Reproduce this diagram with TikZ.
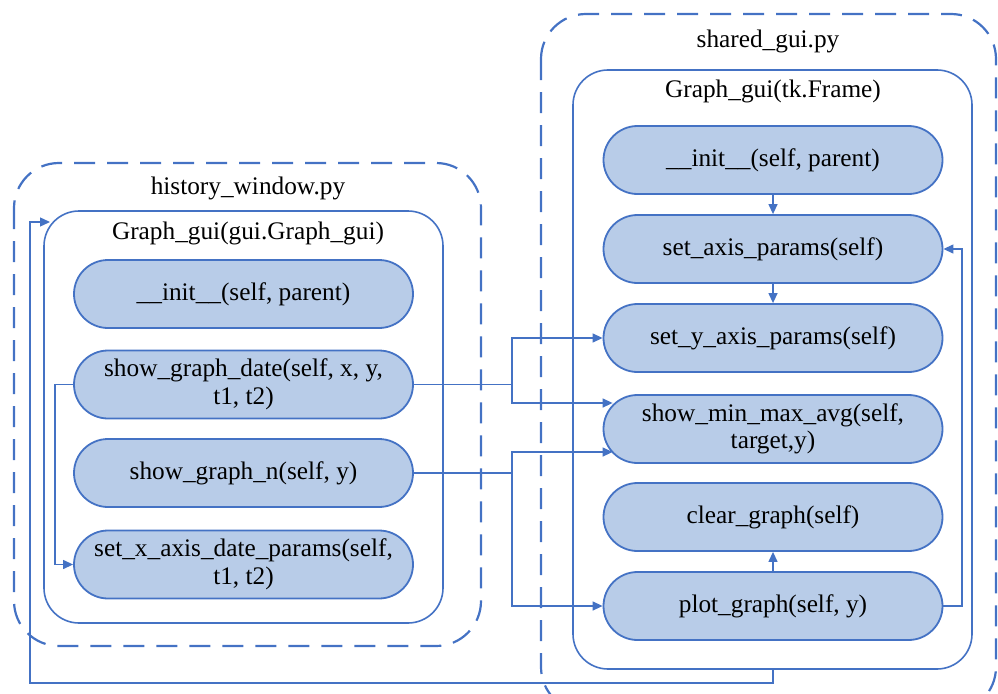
\documentclass[tikz,border=0pt]{standalone}
\usepackage{fontspec}
\setmainfont{Liberation Serif}
\usetikzlibrary{arrows.meta,calc}
\definecolor{lineblue}{HTML}{4472C4}
\definecolor{fillblue}{HTML}{B8CCE8}
\tikzset{
  module/.style={draw=lineblue, line width=2.2pt, dash pattern=on 21pt off 12pt, rounded corners=45pt},
  klass/.style={draw=lineblue, line width=1.6pt, rounded corners=35pt},
  method/.style={draw=lineblue, fill=fillblue, line width=1.8pt, rounded corners=34pt,
    minimum width=339pt, minimum height=68pt, inner sep=0pt, align=center,
    font=\rmfamily\fontsize{25.3}{27.5}\selectfont},
  title/.style={font=\rmfamily\fontsize{25.3}{28}\selectfont, inner sep=0pt},
  link/.style={draw=lineblue, line width=1.3pt},
  arr/.style={link, -{Triangle[length=10pt,width=9pt]}},
}
\begin{document}
\begin{tikzpicture}[x=1pt, y=-1pt]
\useasboundingbox (0,0) rectangle (998,693);
\clip (0,0) rectangle (998,693);

% module frames
\draw[module] (14,163) rectangle (481,646);
\node[title] (histtitle) at (248,188) {history\_window.py};
\draw[module] (541,14) rectangle (996,712);
\node[title] (sharedtitle) at (768,41) {shared\_gui.py};

% class frames
\draw[klass] (44,211) rectangle (443,623);
\node[title] (lclass) at (248,233) {Graph\_gui(gui.Graph\_gui)};
\draw[klass] (573,70) rectangle (972,669);
\node[title] (rclass) at (773,91) {Graph\_gui(tk.Frame)};
\coordinate (rbottom) at (773,669);
\coordinate (lentry) at (50,222);

% history_window methods
\node[method] (l1) at (243.5,294) {\_\_init\_\_(self, parent)};
\node[method] (l2) at (243.5,384.5) {show\_graph\_date(self, x, y,\\t1, t2)};
\node[method] (l3) at (243.5,473) {show\_graph\_n(self, y)};
\node[method] (l4) at (243.5,564.5) {set\_x\_axis\_date\_params(self,\\t1, t2)};

% shared_gui methods
\node[method] (r1) at (773,160) {\_\_init\_\_(self, parent)};
\node[method] (r2) at (773,249) {set\_axis\_params(self)};
\node[method] (r3) at (773,338) {set\_y\_axis\_params(self)};
\node[method] (r4) at (773,429) {show\_min\_max\_avg(self,\\target,y)};
\node[method] (r5) at (773,517) {clear\_graph(self)};
\node[method] (r6) at (773,606) {plot\_graph(self, y)};

% points on the rounded left side of show_min_max_avg
\coordinate (r4up) at ($(r4.west)+(10,-26)$);
\coordinate (r4dn) at ($(r4.west)+(10,23)$);

% calls inside shared_gui
\draw[arr] (r1) -- (r2);
\draw[arr] (r2) -- (r3);
\draw[arr] (r6) -- (r5);
\draw[arr] (r6.east) -- (962,606) -- (962,249) -- (r2.east);

% calls from history_window into shared_gui
\draw[link] (l2.east) -- (512,384.5);
\draw[arr] (512,384.5) |- (r3.west);
\draw[arr] (512,384.5) |- (r4up);
\draw[link] (l3.east) -- (512,473);
\draw[arr] (512,473) |- (r4dn);
\draw[arr] (512,473) |- (r6.west);

% call inside history_window
\draw[arr] (l2.west) -- (55,384.5) |- (l4.west);

% inheritance link
\draw[arr] (rbottom) -- (773,683) -- (30,683) |- (lentry);
\end{tikzpicture}
\end{document}
